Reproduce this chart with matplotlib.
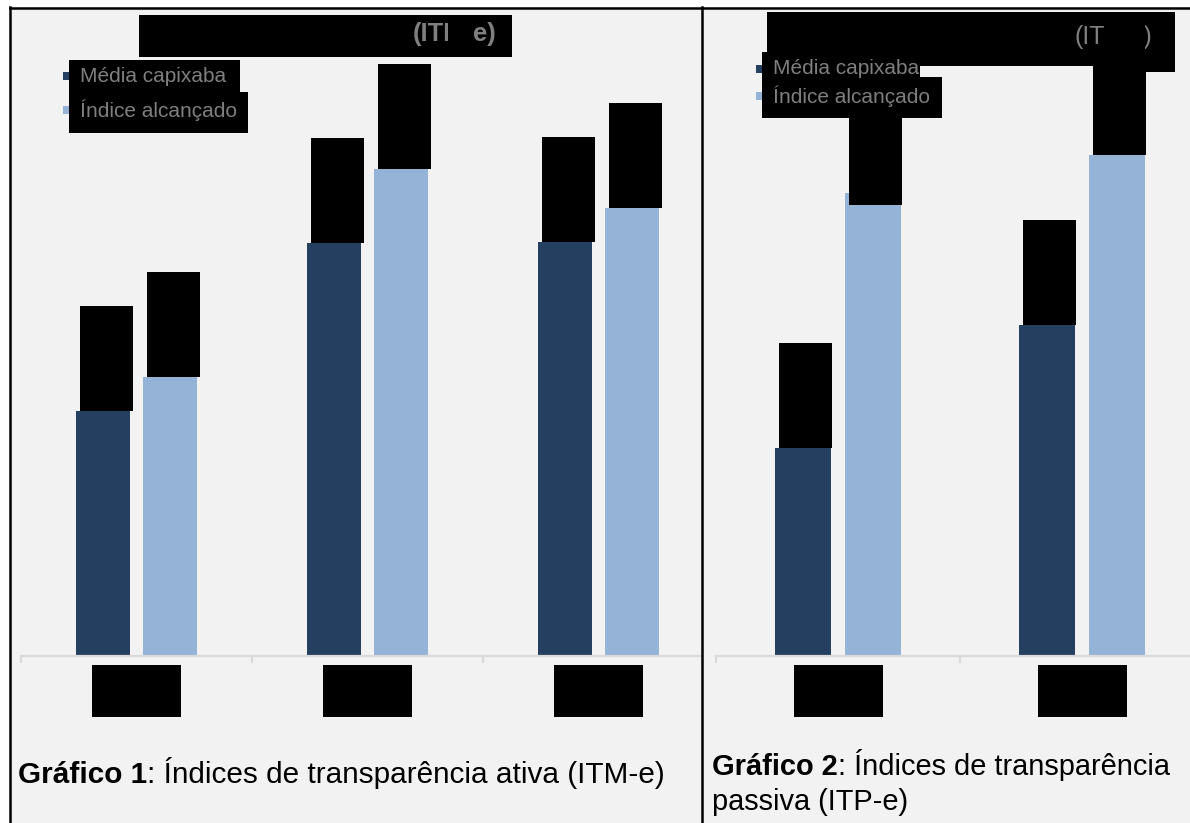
import matplotlib
matplotlib.use("Agg")
import matplotlib.pyplot as plt
from matplotlib.patches import Rectangle
from matplotlib.lines import Line2D

plt.rcParams["font.family"] = ["Liberation Sans", "DejaVu Sans"]

# ---- data -------------------------------------------------------------
series_names = ["Média capixaba", "Índice alcançado"]
ativa_media = [41.1, 69.3, 69.5]
ativa_indice = [46.8, 81.7, 75.2]
passiva_media = [34.9, 55.5]
passiva_indice = [77.7, 84.1]
caption_1 = ("Gráfico 1", ": Índices de transparência ativa (ITM-e)")
caption_2 = ("Gráfico 2", ": Índices de transparência\npassiva (ITP-e)")
title_1 = "(ITM-e)"
title_2 = "(ITP-e)"

DARK = "#243f60"
LIGHT = "#95b3d7"
BG = "#f2f2f2"
AXIS = "#d9d9d9"
GREY_TXT = "#7f7f7f"

W, H = 1190, 823
fig = plt.figure(figsize=(W / 100, H / 100), dpi=100, facecolor="white")


def fxy(x, y):
    return x / W, 1 - y / H


def box(x0, y0, x1, y1, color="black", z=5):
    fx0, fy1 = fxy(x0, y1)
    fig.add_artist(Rectangle((fx0, fy1), (x1 - x0) / W, (y1 - y0) / H,
                             transform=fig.transFigure, facecolor=color,
                             edgecolor="none", zorder=z))


# page background
box(10, 7, W, H, color=BG, z=-10)

BAR_W = 0.232
OFFSET = 0.144
YMAX = 100.0
AX_BOTTOM, AX_TOP = 656, 60
PX_PER_UNIT = (AX_BOTTOM - AX_TOP) / YMAX


def chart(x_left, x_right, cat_px, media, indice, label_shift):
    l, b = fxy(x_left, AX_BOTTOM)
    ax = fig.add_axes([l, b, (x_right - x_left) / W, (AX_BOTTOM - AX_TOP) / H])
    ax.set_facecolor("none")
    n = len(media)
    xs = list(range(n))
    ax.bar([x - OFFSET for x in xs], media, BAR_W, color=DARK, zorder=2)
    ax.bar([x + OFFSET for x in xs], indice, BAR_W, color=LIGHT, zorder=2)

    # value labels (masked)
    box_w = 53 / cat_px
    box_h = 105 / PX_PER_UNIT
    nudge = 4 / cat_px
    for i, (m, v) in enumerate(zip(media, indice)):
        for j, (xc, val) in enumerate(((i - OFFSET, m), (i + OFFSET, v))):
            y0 = val - label_shift.get((i, j), 0) / PX_PER_UNIT
            ax.add_patch(Rectangle((xc - BAR_W / 2 + nudge, y0), box_w, box_h,
                                   facecolor="black", edgecolor="none", zorder=3,
                                   clip_on=False))
        # category labels (masked)
        cw = 89 / cat_px
        ax.add_patch(Rectangle((i - cw / 2, -61 / PX_PER_UNIT), cw, 52 / PX_PER_UNIT,
                               facecolor="black", edgecolor="none", zorder=3,
                               clip_on=False))

    for s in ("top", "left", "right"):
        ax.spines[s].set_visible(False)
    ax.spines["bottom"].set_color(AXIS)
    ax.spines["bottom"].set_linewidth(1.6)
    ax.set_yticks([])
    ax.set_xticks([i - 0.5 for i in range(n + 1)])
    ax.set_xticklabels([])
    ax.tick_params(axis="x", length=5, width=1.6, color=AXIS, direction="out")
    # limits last, so the boundary ticks do not widen the view
    ax.set_xlim(-0.5, -0.5 + (x_right - x_left) / cat_px)
    ax.set_ylim(0, YMAX)
    return ax


chart(21, 701, 231, ativa_media, ativa_indice, {})
chart(716, W, 244, passiva_media, passiva_indice, {(0, 1): 12})

# ---- titles (masked) --------------------------------------------------
box(139, 15, 512, 57)
tx, ty = fxy(413, 34)
fig.text(tx, ty, title_1, fontsize=18.4, fontweight="bold", color=GREY_TXT,
         ha="left", va="center", zorder=6)
box(448, 18, 473, 52, z=7)

box(767, 12, 1127, 66)
box(1127, 12, 1175, 72)
tx, ty = fxy(1075, 37)
fig.text(tx, ty, title_2, fontsize=18, color=GREY_TXT, ha="left", va="center",
         zorder=6)
box(1106, 18, 1145, 58, z=7)

# ---- legends (masked) -------------------------------------------------
def legend(x_mark, x_box, x_txt, rows):
    for (y_c, y0, y1, x_end), color, name in zip(rows, (DARK, LIGHT), series_names):
        box(x_mark, y_c - 4, x_mark + 8, y_c + 4, color=color, z=4)
        box(x_box, y0, x_end, y1)
        tx, ty = fxy(x_txt, y_c)
        fig.text(tx, ty, name, fontsize=15, color=GREY_TXT, ha="left",
                 va="center", zorder=6)


legend(63, 69, 80, [(76, 60, 92, 240), (110, 92, 133, 248)])
legend(756, 762, 773, [(69, 52, 78, 920), (96, 77, 118, 942)])

# ---- captions ---------------------------------------------------------
def caption(x, y, parts, size):
    bold, rest = parts
    tx, ty = fxy(x, y)
    t = fig.text(tx, ty, bold, fontsize=size, fontweight="bold", color="black",
                 ha="left", va="baseline")
    lines = rest.split("\n")
    fig.canvas.draw()
    ext = t.get_window_extent()
    fig.text(ext.x1 / W, ty, lines[0], fontsize=size, color="black",
             ha="left", va="baseline")
    for k, line in enumerate(lines[1:], start=1):
        fig.text(tx, fxy(x, y + 35 * k)[1], line, fontsize=size, color="black",
                 ha="left", va="baseline")


caption(18, 783, caption_1, 21.4)
caption(712, 775, caption_2, 20.9)

# ---- frame lines ------------------------------------------------------
for xs, ys in (([10, 10], [7, H]), ([702, 702], [7, H]), ([10, W], [8, 8])):
    fig.add_artist(Line2D([x / W for x in xs], [1 - y / H for y in ys],
                          transform=fig.transFigure, color="black",
                          linewidth=1.8, zorder=10))

fig.savefig("out.png", dpi=100, facecolor="white")
